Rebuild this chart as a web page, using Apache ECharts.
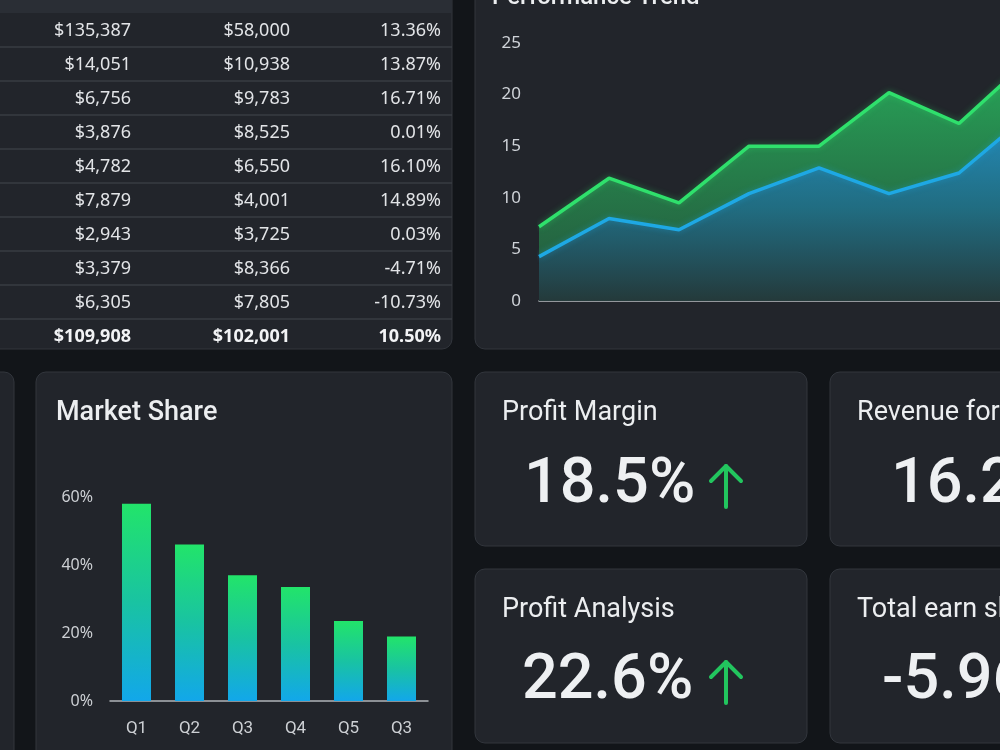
<!DOCTYPE html>
<html>
<head>
<meta charset="utf-8">
<title>Dashboard</title>
<script src="https://cdn.jsdelivr.net/npm/echarts@6/dist/echarts.min.js"></script>
<style>
	html, body { margin: 0; padding: 0; background: #121519; }
	#main { width: 1000px; height: 750px; }
</style>
</head>
<body>
<div id="main"></div>
<script>
// table
var colSales = ['$135,387', '$14,051', '$6,756', '$3,876', '$4,782', '$7,879', '$2,943', '$3,379', '$6,305'];
var colCost = ['$58,000', '$10,938', '$9,783', '$8,525', '$6,550', '$4,001', '$3,725', '$8,366', '$7,805'];
var colGrowth = ['13.36%', '13.87%', '16.71%', '0.01%', '16.10%', '14.89%', '0.03%', '-4.71%', '-10.73%'];
var totalRow = ['$109,908', '$102,001', '10.50%'];

// performance trend
var trendLabels = ['P1', 'P2', 'P3', 'P4', 'P5', 'P6', 'P7', 'P8'];
var trendGreen = [7.2, 11.9, 9.5, 15.0, 15.0, 20.2, 17.2, 23.4];
var trendBlue = [4.3, 8.0, 6.9, 10.4, 12.9, 10.4, 12.4, 18.1];

// market share
var shareCats = ['Q1', 'Q2', 'Q3', 'Q4', 'Q5', 'Q3'];
var shareVals = [58, 46, 37, 33.5, 23.5, 19];

// kpi cards
var kpiTitles = ['Profit Margin', 'Revenue forecast', 'Profit Analysis', 'Total earn share'];
var kpiValues = ['18.5%', '16.2%', '22.6%', '-5.96%'];
var kpiUp = [true, false, true, false];

var cardFill = '#22252b';
var cardLine = '#32363d';
var textFont = 'Roboto, "Noto Sans", sans-serif';
var numFont = '"Noto Sans", "Open Sans", sans-serif';

function card(x, y, w, h) {
	return {
		type: 'rect', z: 0, silent: true,
		shape: { x: x, y: y, width: w, height: h, r: 10 },
		style: { fill: cardFill, stroke: cardLine, lineWidth: 1 }
	};
}

function label(txt, x, y, font, color, align) {
	return {
		type: 'text', z: 10, silent: true,
		style: {
			text: txt, x: x, y: y, font: font, fill: color,
			textAlign: align || 'left', textVerticalAlign: 'middle'
		}
	};
}

function arrow(x, yTop, yBot) {
	return {
		type: 'polyline', z: 10, silent: true,
		shape: { points: [[x, yBot], [x, yTop]] },
		style: { stroke: '#22c55e', lineWidth: 4, lineCap: 'round', fill: null }
	};
}

function arrowHead(x, yTop) {
	return {
		type: 'polyline', z: 10, silent: true,
		shape: { points: [[x - 15, yTop + 15], [x, yTop], [x + 15, yTop + 15]] },
		style: { stroke: '#22c55e', lineWidth: 4, lineCap: 'round', lineJoin: 'round', fill: null }
	};
}

var els = [];

// card frames
els.push(card(-30, -40, 482, 389));
els.push(card(475, -40, 560, 389));
els.push(card(-300, 372, 314, 420));
els.push(card(36, 372, 416, 420));
els.push(card(475, 372, 332, 174));
els.push(card(830, 372, 332, 174));
els.push(card(475, 569, 332, 174));
els.push(card(830, 569, 332, 174));

// table header strip and rows
els.push({
	type: 'rect', z: 1, silent: true,
	shape: { x: -30, y: -40, width: 482, height: 53 },
	style: { fill: '#2a2e35' }
});
var rowTop = 13, rowH = 34;
for (var i = 0; i <= colSales.length; i++) {
	var cy = rowTop + rowH * i + rowH / 2 + 0.5;
	if (i > 0) {
		els.push({
			type: 'line', z: 2, silent: true,
			shape: { x1: -30, y1: rowTop + rowH * i, x2: 452, y2: rowTop + rowH * i },
			style: { stroke: '#383c43', lineWidth: 1.5 }
		});
	}
	if (i < colSales.length) {
		els.push(label(colSales[i], 131, cy, '18px ' + numFont, '#e2e4e7', 'right'));
		els.push(label(colCost[i], 290, cy, '18px ' + numFont, '#e2e4e7', 'right'));
		els.push(label(colGrowth[i], 441, cy, '18px ' + numFont, '#e2e4e7', 'right'));
	} else {
		els.push(label(totalRow[0], 131, cy, 'bold 18px ' + numFont, '#f2f3f5', 'right'));
		els.push(label(totalRow[1], 290, cy, 'bold 18px ' + numFont, '#f2f3f5', 'right'));
		els.push(label(totalRow[2], 441, cy, 'bold 18px ' + numFont, '#f2f3f5', 'right'));
	}
}

// titles
els.push(label('Performance Trend', 492, -2, '500 24px ' + textFont, '#eceef0'));
els.push(label('Market Share', 56, 413, '500 27px ' + textFont, '#eceef0'));

// kpi cards
var kpiPos = [[502, 413, 524, 486], [857, 413, 891, 486], [502, 610, 522, 682], [857, 610, 882, 682]];
for (var k = 0; k < kpiTitles.length; k++) {
	var p = kpiPos[k];
	els.push(label(kpiTitles[k], p[0], p[1], '27px ' + textFont, '#eceef0'));
	els.push(label(kpiValues[k], p[2], p[3], '500 63px ' + textFont, '#eef0f2'));
	if (kpiUp[k]) {
		els.push(arrow(726, p[3] - 20, p[3] + 21));
		els.push(arrowHead(726, p[3] - 20));
	}
}

var chart = echarts.init(document.getElementById('main'));
var option = {
	backgroundColor: '#121519',
	animation: false,
	graphic: { elements: els },
	grid: [
		{ left: 539, top: 43, width: 490, height: 258, outerBoundsMode: 'none' },
		{ left: 110, top: 497, width: 318, height: 204 }
	],
	xAxis: [{
		gridIndex: 0, type: 'category', boundaryGap: false, data: trendLabels,
		axisLabel: { show: false }, axisTick: { show: false },
		axisLine: { lineStyle: { color: '#b9bdc2', width: 1.5 } }
	}, {
		gridIndex: 1, type: 'category', data: shareCats,
		axisTick: { show: false },
		axisLine: { lineStyle: { color: '#b0b4b9', width: 1.5 } },
		axisLabel: { color: '#cdd0d4', fontSize: 17, fontFamily: 'Roboto', margin: 19 }
	}],
	yAxis: [{
		gridIndex: 0, type: 'value', min: 0, max: 25, interval: 5,
		splitLine: { show: false }, axisLine: { show: false }, axisTick: { show: false },
		axisLabel: { color: '#cfd3d8', fontSize: 17, fontFamily: 'Noto Sans', margin: 18 }
	}, {
		gridIndex: 1, type: 'value', min: 0, max: 60, interval: 20,
		splitLine: { show: false }, axisLine: { show: false }, axisTick: { show: false },
		axisLabel: { color: '#cdd0d4', fontSize: 16, fontFamily: 'Noto Sans', margin: 17, formatter: '{value}%' }
	}],
	series: [{
		type: 'line', xAxisIndex: 0, yAxisIndex: 0, data: trendGreen, z: 3,
		symbol: 'none',
		lineStyle: { color: '#2fe06c', width: 3.5, shadowColor: 'rgba(47,224,108,0.4)', shadowBlur: 6 },
		areaStyle: {
			opacity: 1,
			color: new echarts.graphic.LinearGradient(0, 0, 0, 1, [
				{ offset: 0, color: 'rgba(40,175,92,0.95)' },
				{ offset: 1, color: 'rgba(38,120,72,0.6)' }
			])
		}
	}, {
		type: 'line', xAxisIndex: 0, yAxisIndex: 0, data: trendBlue, z: 4,
		symbol: 'none',
		lineStyle: { color: '#1ea8e4', width: 3.5, shadowColor: 'rgba(30,168,228,0.4)', shadowBlur: 6 },
		areaStyle: {
			opacity: 1,
			color: new echarts.graphic.LinearGradient(0, 0, 0, 1, [
				{ offset: 0, color: 'rgba(36,140,196,0.95)' },
				{ offset: 0.5, color: 'rgba(32,108,140,0.85)' },
				{ offset: 1, color: 'rgba(36,56,58,0.95)' }
			])
		}
	}, {
		type: 'bar', xAxisIndex: 1, yAxisIndex: 1, data: shareVals, barWidth: 29,
		itemStyle: {
			color: new echarts.graphic.LinearGradient(0, 0, 0, 1, [
				{ offset: 0, color: '#22e46a' },
				{ offset: 0.5, color: '#19c3a2' },
				{ offset: 1, color: '#12a7ea' }
			])
		}
	}]
};
chart.setOption(option);
</script>
</body>
</html>
